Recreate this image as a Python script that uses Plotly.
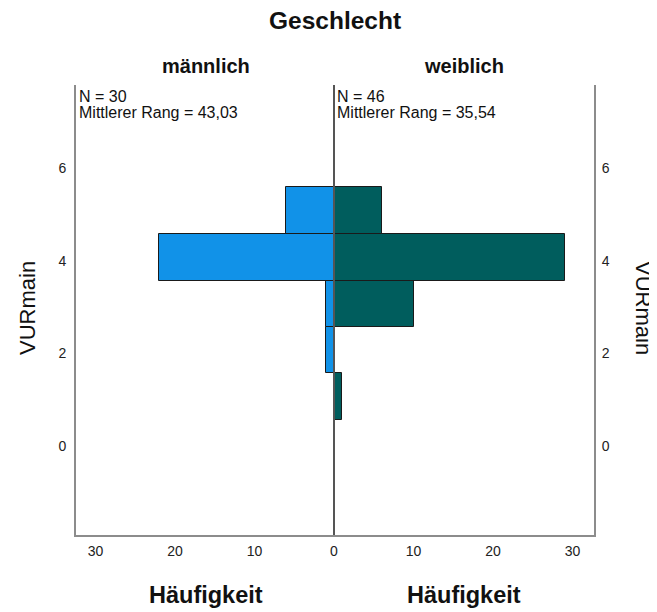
import plotly.graph_objects as go

# Data
bin_lower = [0.56, 1.57, 2.57, 3.57, 4.58]   # lower edges of VURmain bins
bin_width = 1.01
male_counts = [0, 1, 1, 22, 6]
female_counts = [1, 0, 10, 29, 6]
group_labels = ["männlich", "weiblich"]
group_n = [30, 46]
group_rank = ["43,03", "35,54"]
y_ticks = [0, 2, 4, 6]
x_ticks_left = [10, 20, 30]
x_ticks_right = [0, 10, 20, 30]

centers = [b + bin_width / 2 for b in bin_lower]

FONT = "Arial, Liberation Sans, sans-serif"
male_color = "#1192e8"
female_color = "#005d5d"

fig = go.Figure()
fig.add_trace(go.Bar(
    y=centers, x=male_counts, orientation="h", width=bin_width,
    marker=dict(color=male_color, line=dict(color="#1a1a1a", width=1)),
    xaxis="x", yaxis="y", showlegend=False, hoverinfo="x+y"))
fig.add_trace(go.Bar(
    y=centers, x=female_counts, orientation="h", width=bin_width,
    marker=dict(color=female_color, line=dict(color="#1a1a1a", width=1)),
    xaxis="x2", yaxis="y2", showlegend=False, hoverinfo="x+y"))

OFF = 8  # page body margin
W, H = 657 - OFF, 612 - OFF
L = 76 - OFF
T = 85 - OFF
R = W - (594 - OFF)
B = H - (535 - OFF)
plot_w = W - L - R
plot_h = H - T - B
split = (334 - 76) / (594 - 76)

axis_common = dict(showgrid=False, zeroline=False, tickfont=dict(family=FONT, size=14, color="#222"),
                   ticks="", fixedrange=True, showline=True, linecolor="#8c8c8c", linewidth=2)

fig.update_layout(
    width=W, height=H,
    margin=dict(l=L, r=R, t=T, b=B),
    paper_bgcolor="white", plot_bgcolor="white",
    bargap=0,
    font=dict(family=FONT, color="#111"),
    xaxis=dict(domain=[0, split], range=[32.45, 0], tickvals=x_ticks_left, anchor="y",
               ticklabelstandoff=2, **axis_common),
    xaxis2=dict(domain=[split, 1], range=[0, 32.7], tickvals=x_ticks_right, anchor="y2",
                ticklabelstandoff=2, **axis_common),
    yaxis=dict(domain=[0, 1], range=[-1.92, 7.8], tickvals=y_ticks, anchor="x", side="left",
               ticklabelstandoff=5, **axis_common),
    yaxis2=dict(domain=[0, 1], range=[-1.92, 7.8], tickvals=y_ticks, anchor="x2", side="right",
                matches="y", ticklabelstandoff=3, **axis_common),
)

# Center divider line, drawn over bars
fig.add_shape(type="line", xref="paper", yref="paper", x0=split, x1=split, y0=0, y1=1,
              line=dict(color="#555", width=2), layer="above")

def px_x(px):
    return (px - OFF - L) / plot_w

def px_y(py):
    return 1 - (py - OFF - T) / plot_h

def txt(text, x, y, size, xanchor="center", angle=0):
    return dict(text=text, x=px_x(x), y=px_y(y), textangle=angle,
                font=dict(size=size, family=FONT, color="#111"),
                showarrow=False, xref="paper", yref="paper",
                xanchor=xanchor, yanchor="middle")

ann = [txt("<b>Geschlecht</b>", 335, 21, 24.5)]
panel_centers = [206, 464]
note_x = [77, 335]
for i, g in enumerate(group_labels):
    ann.append(txt("<b>%s</b>" % g, panel_centers[i], 66, 20))
    ann.append(txt("N = %d" % group_n[i], note_x[i], 97, 16, xanchor="left"))
    ann.append(txt("Mittlerer Rang = %s" % group_rank[i], note_x[i], 112, 16, xanchor="left"))
    ann.append(txt("<b>Häufigkeit</b>", panel_centers[i], 595, 23.5))
ann.append(txt("VURmain", 27, 308, 22, angle=-90))
ann.append(txt("VURmain", 644, 308, 22, angle=90))
fig.update_layout(annotations=ann)

fig.write_html("out.html")
